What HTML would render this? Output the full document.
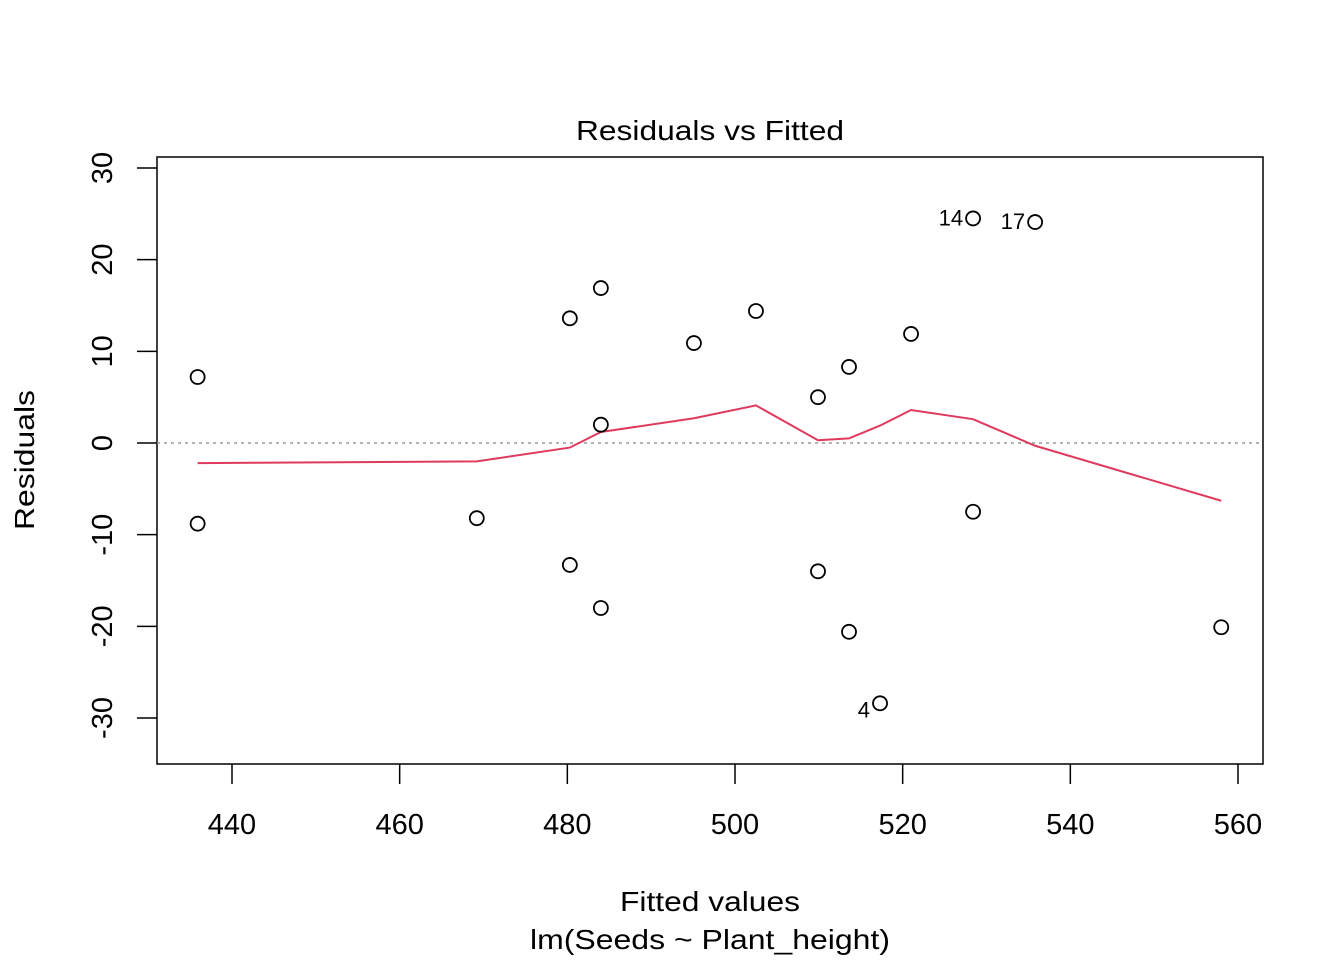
<!DOCTYPE html>
<html><head><meta charset="utf-8"><style>body{margin:0;background:#fff}svg{display:block;font-family:"Liberation Sans",Arial,sans-serif}</style></head>
<body>
<svg id="chart" width="1344" height="960">
<rect x="157" y="157" width="1106" height="607" fill="none" stroke="#000" stroke-width="1.5"/>
<text x="710" y="140" text-anchor="middle" font-size="28" textLength="268" lengthAdjust="spacingAndGlyphs">Residuals vs Fitted</text>
<text x="710" y="911" text-anchor="middle" font-size="28" textLength="180" lengthAdjust="spacingAndGlyphs">Fitted values</text>
<text x="710" y="949" text-anchor="middle" font-size="28" textLength="360" lengthAdjust="spacingAndGlyphs">lm(Seeds ~ Plant_height)</text>
<text transform="translate(34,460) rotate(-90)" text-anchor="middle" font-size="28" textLength="140" lengthAdjust="spacingAndGlyphs">Residuals</text>
<g id="g"></g>
</svg>
<script>
const fitted=[435.9,435.9,469.2,480.3,480.3,484.0,484.0,484.0,495.1,502.5,509.9,509.9,513.6,513.6,517.3,521.0,528.4,528.4,535.8,558.0];
const resid=[7.2,-8.8,-8.2,13.6,-13.3,16.9,2.0,-18.0,10.9,14.4,5.0,-14.0,8.3,-20.6,-28.4,11.9,24.5,-7.5,24.1,-20.1];
const smoothX=[435.9,469.2,480.3,484.0,495.1,502.5,509.9,513.6,517.3,521.0,528.4,535.8,558.0];
const smoothY=[-2.2,-2.0,-0.5,1.2,2.7,4.1,0.3,0.5,1.9,3.6,2.6,-0.3,-6.3];
const xTicks=[440,460,480,500,520,540,560];
const yTicks=[-30,-20,-10,0,10,20,30];
const labelIdx=[14,16,18];const labelText=["4","14","17"];
const X=v=>232+(v-440)*1006/120;
const Y=v=>443-v*550/60;
const g=document.getElementById('g');const NS='http://www.w3.org/2000/svg';
function mk(t,a){const e=document.createElementNS(NS,t);for(const k in a)e.setAttribute(k,a[k]);g.appendChild(e);return e;}
xTicks.forEach(v=>{const l=mk('line',{x1:X(v),x2:X(v),y1:764,y2:784,stroke:'#000','stroke-width':1.5});


const t=mk('text',{x:X(v),y:834,'text-anchor':'middle','font-size':29});t.textContent=v;

});
yTicks.forEach(v=>{const l=mk('line',{x1:137,x2:157,y1:Y(v),y2:Y(v),stroke:'#000','stroke-width':1.5});


const t=mk('text',{transform:`translate(112,${Y(v)}) rotate(-90)`,'text-anchor':'middle','font-size':29});t.textContent=v;

});
const z=mk('line',{x1:157,x2:1263,y1:Y(0),y2:Y(0),stroke:'#999','stroke-width':1.5,'stroke-dasharray':'3,4'});


const p=mk('polyline',{points:smoothX.map((v,i)=>X(v)+','+Y(smoothY[i])).join(' '),fill:'none',stroke:'#DF3A5E','stroke-width':2});


fitted.forEach((v,i)=>{const c=mk('circle',{cx:X(v),cy:Y(resid[i]),r:7,fill:'none',stroke:'#000','stroke-width':1.8});

});
labelIdx.forEach((i,k)=>{const lx=X(fitted[i])-10,ly=Y(resid[i])+(k==0?14:7);
const t=mk('text',{x:lx,y:ly,'text-anchor':'end','font-size':22});t.textContent=labelText[k];

});
</script>
</body></html>
